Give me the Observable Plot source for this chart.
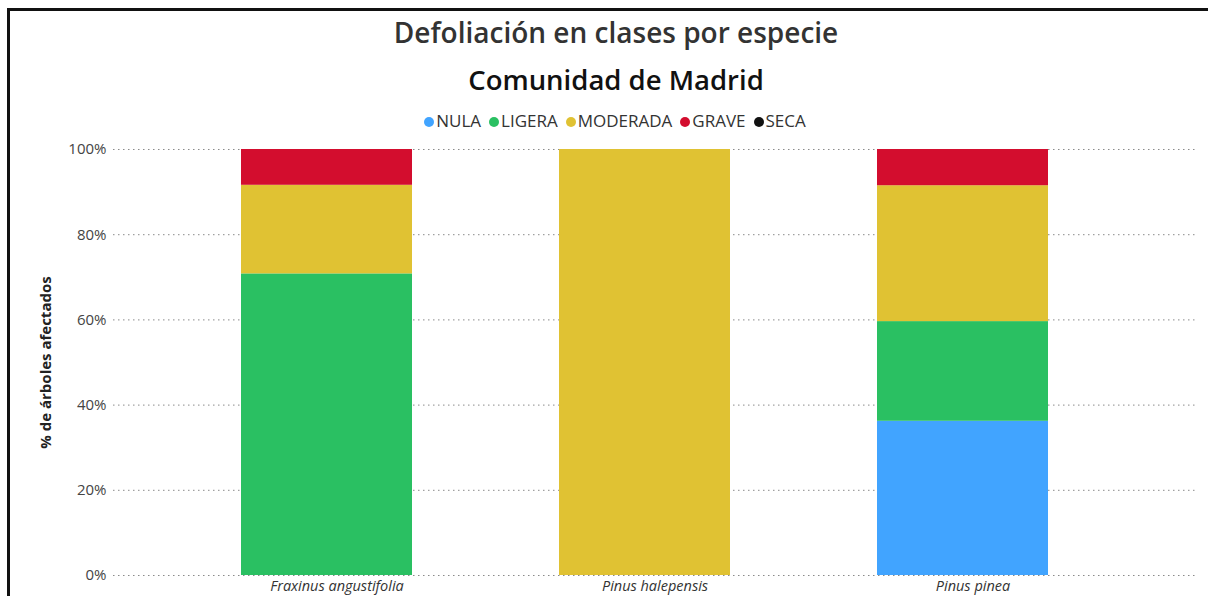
<!DOCTYPE html>
<html>
<head>
<meta charset="utf-8">
<script src="https://cdn.jsdelivr.net/npm/d3@7"></script>
<script src="https://cdn.jsdelivr.net/npm/@observablehq/plot@0.6"></script>
<style>
  html, body { margin: 0; padding: 0; background: #fff; }
  #wrap { position: relative; width: 1208px; height: 596px; overflow: hidden; font-family: "Open Sans", sans-serif; }
  #frame { position: absolute; left: 7px; top: 8px; width: 1300px; height: 700px; border-top: 3px solid #111; border-left: 3px solid #111; box-sizing: border-box; pointer-events: none; }
  #head { height: 135px; position: relative; }
  #title { position: absolute; top: 13px; left: 0; width: 1232px; text-align: center; font-size: 28px; font-weight: 600; color: #333; line-height: 38px; }
  #subtitle { position: absolute; top: 60px; left: 0; width: 1232px; text-align: center; font-size: 27.5px; font-weight: 600; color: #111; line-height: 40px; }
  #legend { position: absolute; top: 110px; left: 0; width: 1230px; text-align: center; font-size: 17px; color: #333; line-height: 22px; }
  .item { display: inline-block; margin: 0 4px; }
  .dot { display: inline-block; width: 10px; height: 10px; border-radius: 50%; margin-right: 2px; vertical-align: 0px; }
  svg { display: block; }
</style>
</head>
<body>
<div id="wrap">
  <div id="head">
    <div id="title"></div>
    <div id="subtitle"></div>
    <div id="legend"></div>
  </div>
  <div id="chart"></div>
  <div id="frame"></div>
</div>
<script>
const titleText = "Defoliación en clases por especie";
const subtitleText = "Comunidad de Madrid";
const yLabel = "% de árboles afectados";

const species = ["Fraxinus angustifolia", "Pinus halepensis", "Pinus pinea"];
const classes = ["NULA", "LIGERA", "MODERADA", "GRAVE", "SECA"];
const classColors = ["#41A4FF", "#2AC062", "#E0C233", "#D30D2E", "#111111"];

const nula     = [0,    0,   36.2];
const ligera   = [70.8, 0,   23.4];
const moderada = [20.8, 100, 31.9];
const grave    = [8.4,  0,   8.5];
const seca     = [0,    0,   0];

const yTicks = [0, 20, 40, 60, 80, 100];

const series = [nula, ligera, moderada, grave, seca];
const data = [];
species.forEach((sp, i) => {
  classes.forEach((c, j) => {
    data.push({species: sp, clase: c, value: series[j][i]});
  });
});

document.getElementById("title").textContent = titleText;
document.getElementById("subtitle").textContent = subtitleText;
const legend = document.getElementById("legend");
classes.forEach((c, j) => {
  const item = document.createElement("span");
  item.className = "item";
  const dot = document.createElement("span");
  dot.className = "dot";
  dot.style.background = classColors[j];
  item.appendChild(dot);
  item.appendChild(document.createTextNode(c));
  legend.appendChild(item);
});

const chart = Plot.plot({
  width: 1208,
  height: 461,
  marginTop: 14,
  marginBottom: 21,
  marginLeft: 113,
  marginRight: 13,
  style: { fontFamily: "Open Sans, sans-serif", background: "transparent" },
  x: { type: "band", domain: species, paddingInner: 0.462, paddingOuter: 0.432, align: 0.466, label: null },
  y: { domain: [0, 100], label: null },
  color: { domain: classes, range: classColors },
  marks: [
    Plot.gridY(yTicks, { stroke: "#8a8a8a", strokeOpacity: 1, strokeDasharray: "1.5,3.5", strokeWidth: 1 }),
    Plot.barY(data, { x: "species", y: "value", fill: "clase", order: null }),
    Plot.axisY(yTicks, { tickSize: 0, tickPadding: 7, tickFormat: d => d + "%", fontSize: 15, fill: "#444", label: null }),
    Plot.axisX({ tickSize: 0, tickPadding: 5, dx: 10, fontSize: 14.5, fontStyle: "italic", fill: "#333", label: null }),
    Plot.text([yLabel], { frameAnchor: "left", textAnchor: "middle", dx: -67, rotate: -90, fontSize: 15, fontWeight: "bold", fill: "#222" })
  ]
});
document.getElementById("chart").appendChild(chart);
</script>
</body>
</html>
